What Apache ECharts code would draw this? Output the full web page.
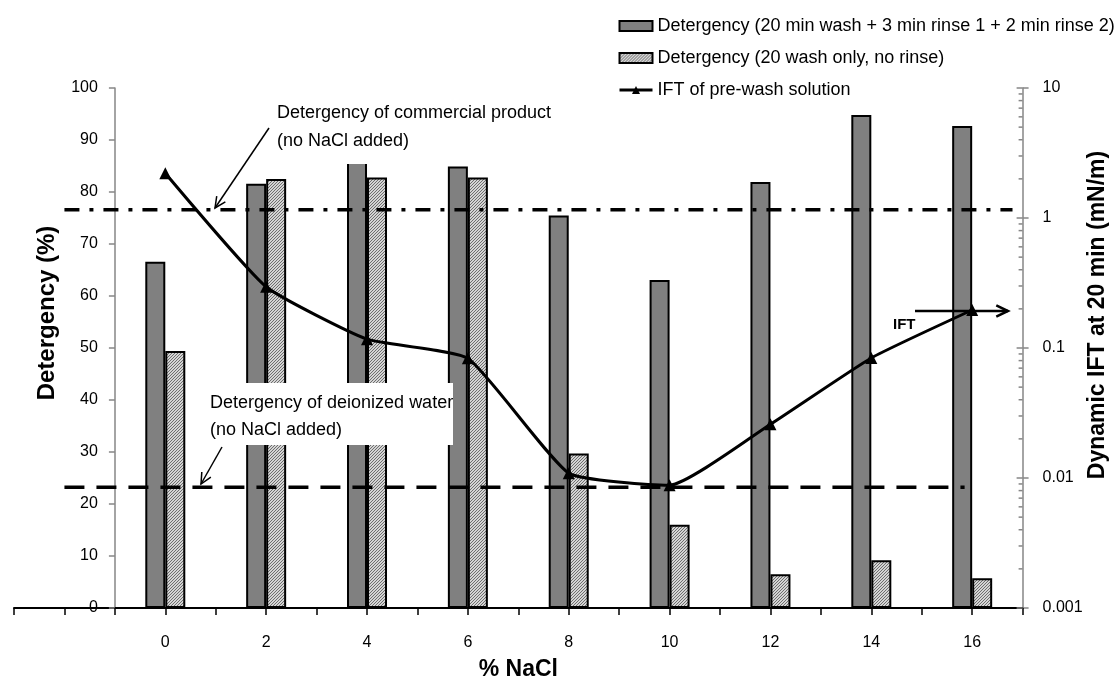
<!DOCTYPE html>
<html><head><meta charset="utf-8">
<script src="https://cdn.jsdelivr.net/npm/echarts@6/dist/echarts.min.js"></script>
<style>html,body{margin:0;padding:0;background:#fff}#c{width:1117px;height:686px}</style>
</head><body><div id="c"></div>
<script>
// ---- data ----
const nacl = [0, 2, 4, 6, 8, 10, 12, 14, 16];
const detWithRinse = [66.6, 81.6, 88.0, 84.9, 75.5, 63.1, 81.9, 94.8, 92.7];
const detNoRinse = [49.4, 82.5, 82.8, 82.8, 29.7, 16.0, 6.5, 9.2, 5.7];
const iftPreWash = [2.21, 0.296, 0.117, 0.0834, 0.0109, 0.0088, 0.0259, 0.0838, 0.196];
const commercialLevel = 76.6;
const deionizedLevel = 23.2;
const commercialSpan = [-2, 16.8];
const deionizedSpan = [-2, 15.85];
const iftMajorTicks = [0.001, 0.01, 0.1, 1, 10];
const iftMinorTicks = [0.002,0.003,0.004,0.005,0.006,0.007,0.008,0.009,
  0.02,0.03,0.04,0.05,0.06,0.07,0.08,0.09,
  0.2,0.3,0.4,0.5,0.6,0.7,0.8,0.9,
  2,3,4,5,6,7,8,9];
const names = [
  'Detergency (20 min wash + 3 min rinse 1 + 2 min rinse 2)',
  'Detergency (20 wash only, no rinse)',
  'IFT of pre-wash solution'
];

const FONT = 'Liberation Sans, Arial, sans-serif';

function hatch() {
  const c = document.createElement('canvas');
  c.width = 3; c.height = 3;
  const g = c.getContext('2d');
  g.fillStyle = '#d4d4d4'; g.fillRect(0, 0, 3, 3);
  g.fillStyle = '#6e6e6e';
  for (let i = 0; i < 3; i++) g.fillRect(i, 2 - i, 1, 1);
  return c;
}

function arrow(x1, y1, x2, y2, w, head) {
  const a = Math.atan2(y2 - y1, x2 - x1);
  const s = Math.PI / 7;
  const p1 = [x2 - head * Math.cos(a - s), y2 - head * Math.sin(a - s)];
  const p2 = [x2 - head * Math.cos(a + s), y2 - head * Math.sin(a + s)];
  return [
    {type: 'line', z: 110, shape: {x1, y1, x2, y2}, style: {stroke: '#000', lineWidth: w}},
    {type: 'polyline', z: 110, shape: {points: [p1, [x2, y2], p2]}, style: {stroke: '#000', lineWidth: w, fill: null}}
  ];
}

const chart = echarts.init(document.getElementById('c'), null, {renderer: 'canvas'});
const hatchPattern = {image: hatch(), repeat: 'repeat'};

chart.setOption({
  animation: false,
  textStyle: {fontFamily: FONT},
  grid: {left: 14, right: 94.4, top: 88, bottom: 78, containLabel: false, outerBoundsMode: 'none'},
  legend: {
    orient: 'vertical', left: 613, top: 12, itemWidth: 33, itemHeight: 10, itemGap: 14,
    textStyle: {fontSize: 18, color: '#000', fontFamily: FONT},
    lineStyle: {width: 3},
    data: [{name: names[0], icon: 'rect'}, {name: names[1], icon: 'rect'}, {name: names[2]}]
  },
  xAxis: {
    type: 'value', min: -3, max: 17, interval: 1,
    axisLine: {onZero: false, lineStyle: {color: '#000', width: 2}},
    axisTick: {show: true, length: 7, lineStyle: {color: '#000', width: 1.5}},
    axisLabel: {formatter: v => nacl.includes(v) ? String(v) : '', fontSize: 16, margin: 27, color: '#000', fontFamily: FONT},
    splitLine: {show: false},
    name: '% NaCl', nameLocation: 'middle', nameGap: 50,
    nameTextStyle: {fontWeight: 'bold', fontSize: 23, color: '#000', fontFamily: FONT}
  },
  yAxis: [
    {
      type: 'value', min: 0, max: 100, interval: 10, position: 'left', offset: -100.9,
      axisLine: {show: true, onZero: false, lineStyle: {color: '#868686', width: 1.5}},
      axisTick: {show: true, length: 6, lineStyle: {color: '#868686', width: 1.5}},
      axisLabel: {color: '#000', fontSize: 16, margin: 17, fontFamily: FONT},
      splitLine: {show: false},
      name: 'Detergency (%)', nameLocation: 'middle', nameGap: 56, nameRotate: 90,
      nameTextStyle: {fontWeight: 'bold', fontSize: 24, color: '#000', fontFamily: FONT, padding: [0, 0, 0, 70]}
    },
    {
      type: 'log', logBase: 10, min: 0.001, max: 10, position: 'right',
      axisLine: {show: true, onZero: false, lineStyle: {color: '#868686', width: 1.5}},
      axisTick: {show: true, length: 6, lineStyle: {color: '#868686', width: 1.5}},
      axisLabel: {color: '#000', fontSize: 16, margin: 20, fontFamily: FONT,
        formatter: v => String(parseFloat(Number(v).toPrecision(3)))},
      splitLine: {show: false},
      name: 'Dynamic IFT at 20 min (mN/m)', nameLocation: 'middle', nameGap: 64, nameRotate: 90,
      nameMoveOverlap: false,
      nameTextStyle: {fontWeight: 'bold', fontSize: 23, color: '#000', fontFamily: FONT, padding: [0, 0, 0, 66]}
    }
  ],
  series: [
    {
      name: names[0], type: 'bar', xAxisIndex: 0, yAxisIndex: 0,
      data: nacl.map((x, i) => [x, detWithRinse[i]]),
      barWidth: 20, barGap: '0%',
      itemStyle: {color: '#808080', borderColor: '#000', borderWidth: 2},
      z: 2
    },
    {
      name: names[1], type: 'bar', xAxisIndex: 0, yAxisIndex: 0,
      data: nacl.map((x, i) => [x, detNoRinse[i]]),
      barWidth: 20, barGap: '0%',
      itemStyle: {color: hatchPattern, borderColor: '#000', borderWidth: 2},
      z: 2
    },
    {
      name: 'commercial', type: 'line', xAxisIndex: 0, yAxisIndex: 0, silent: true,
      data: [[commercialSpan[0], commercialLevel], [commercialSpan[1], commercialLevel]],
      symbol: 'none', lineStyle: {color: '#000', width: 3.5, type: [15, 10, 4, 10]}, z: 3
    },
    {
      name: 'deionized', type: 'line', xAxisIndex: 0, yAxisIndex: 0, silent: true,
      data: [[deionizedSpan[0], deionizedLevel], [deionizedSpan[1], deionizedLevel]],
      symbol: 'none', lineStyle: {color: '#000', width: 3.5, type: [20, 12]}, z: 3
    },
    {
      name: names[2], type: 'line', xAxisIndex: 0, yAxisIndex: 1,
      data: nacl.map((x, i) => [x, iftPreWash[i]]),
      symbol: 'triangle', symbolSize: 12, smooth: 0.15,
      itemStyle: {color: '#000'}, lineStyle: {color: '#000', width: 3}, z: 4
    },
    {
      name: 'iftTicks', type: 'custom', xAxisIndex: 0, yAxisIndex: 1, silent: true, clip: false,
      data: iftMinorTicks.map(v => [17, v, 4]).concat(iftMajorTicks.map(v => [17, v, 6])),
      renderItem: (params, api) => {
        const p = api.coord([api.value(0), api.value(1)]);
        return {type: 'line', shape: {x1: p[0] - api.value(2), y1: p[1], x2: p[0], y2: p[1]},
          style: {stroke: '#868686', lineWidth: 1.5}};
      },
      z: 5
    }
  ],
  graphic: [
    {type: 'rect', z: 100, shape: {x: 272, y: 97, width: 293, height: 67}, style: {fill: '#fff'}},
    {type: 'text', z: 101, x: 277, y: 99,
      style: {text: 'Detergency of commercial product\n(no NaCl added)', font: '18px ' + FONT, fill: '#000', lineHeight: 28, verticalAlign: 'top'}},
    {type: 'rect', z: 100, shape: {x: 205, y: 383, width: 248, height: 62}, style: {fill: '#fff'}},
    {type: 'text', z: 101, x: 210, y: 389.5,
      style: {text: 'Detergency of deionized water\n(no NaCl added)', font: '18px ' + FONT, fill: '#000', lineHeight: 27, verticalAlign: 'top'}},
    ...arrow(269, 128, 215, 208, 1.5, 12),
    ...arrow(222, 447, 201, 484, 1.5, 12),
    ...arrow(915, 311, 1008, 311, 2.5, 13),
    {type: 'text', z: 101, x: 893, y: 325,
      style: {text: 'IFT', font: 'bold 15px ' + FONT, fill: '#000', verticalAlign: 'middle'}}
  ]
});
</script>
</body></html>
